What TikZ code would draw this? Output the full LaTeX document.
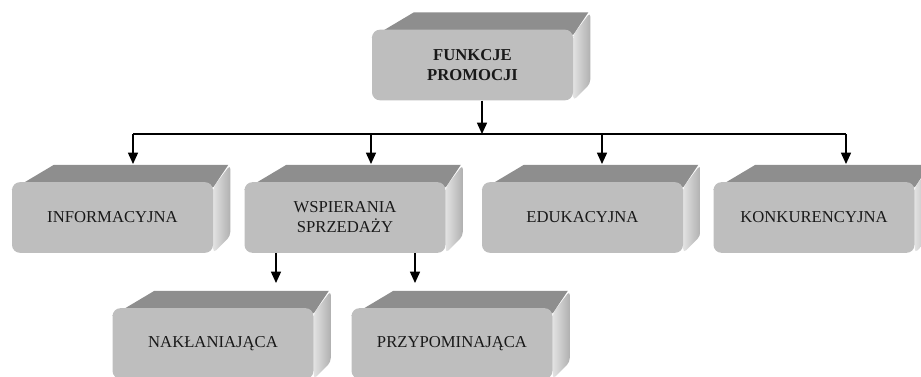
\documentclass[tikz,border=0pt]{standalone}
\usepackage{fontspec}
\setmainfont{Liberation Serif}
\usetikzlibrary{arrows.meta,calc,backgrounds}
\definecolor{frontgray}{RGB}{190,190,190}
\definecolor{topgray}{RGB}{142,142,142}
\definecolor{sidelight}{RGB}{226,226,226}
\definecolor{sidedark}{RGB}{176,176,176}

\begin{document}
\begin{tikzpicture}[x=0.75pt, y=-0.75pt,
  every node/.style = {font=\fontsize{12.5}{15}\selectfont, text=black!90},
  face/.style = {shape=rectangle, rounded corners=6pt, fill=frontgray,
    minimum width=150.75pt, minimum height=53pt, inner sep=0pt, align=center},
  conn/.style = {line width=1.1pt},
  arr/.style = {conn, -{Triangle[width=7.5pt,length=8.5pt]}}]
  \useasboundingbox (0,0) rectangle (921,376);
  \clip (0,0) rectangle (921,376);
  \node[face, font=\bfseries\fontsize{12.5}{15}\selectfont] (funkcje) at (472.5,65) {FUNKCJE\\PROMOCJI};
  \node[face] (info) at (112.5,217.5) {INFORMACYJNA};
  \node[face] (wspier) at (345,217.5) {WSPIERANIA\\SPRZEDAŻY};
  \node[face] (eduk) at (582.5,217.5) {EDUKACYJNA};
  \node[face] (konk) at (814,217.5) {KONKURENCYJNA};
  \node[face] (nakl) at (213,343.5) {NAKŁANIAJĄCA};
  \node[face] (przyp) at (452,343.5) {PRZYPOMINAJĄCA};
  \begin{scope}[on background layer]
    \clip (0,0) rectangle (921,376);
    \foreach \n in {funkcje,info,wspier,eduk,konk,nakl,przyp}{
      \shade[left color=sidelight, right color=sidedark, rounded corners=3pt]
        ([yshift=-4pt]\n.north east) -- ($(\n.north east)+(17,-17)$)
        -- ($(\n.south east)+(17,-17)$) -- (\n.south east) -- cycle;
      \fill[topgray] ([yshift=-6pt]\n.north west) -- ($(\n.north west)+(42,-17)$)
        -- ($(\n.north east)+(15,-17)$) -- ([yshift=-4pt]\n.north east) -- cycle;
    }
  \end{scope}
  \coordinate (bus) at (482,134);
  \coordinate (d1) at (133,164);
  \coordinate (d2) at (371,164);
  \coordinate (d3) at (602,164);
  \coordinate (d4) at (846,164);
  \coordinate (d5) at (276,283);
  \coordinate (d6) at (415,283);
  \draw[arr] (funkcje.south -| bus) -- (bus);
  \draw[conn] (d1 |- bus) -- (d4 |- bus);
  \foreach \d in {d1,d2,d3,d4}
    \draw[arr] (\d |- bus) -- (\d);
  \draw[arr] (wspier.south -| d5) -- (d5);
  \draw[arr] (wspier.south -| d6) -- (d6);
\end{tikzpicture}
\end{document}
